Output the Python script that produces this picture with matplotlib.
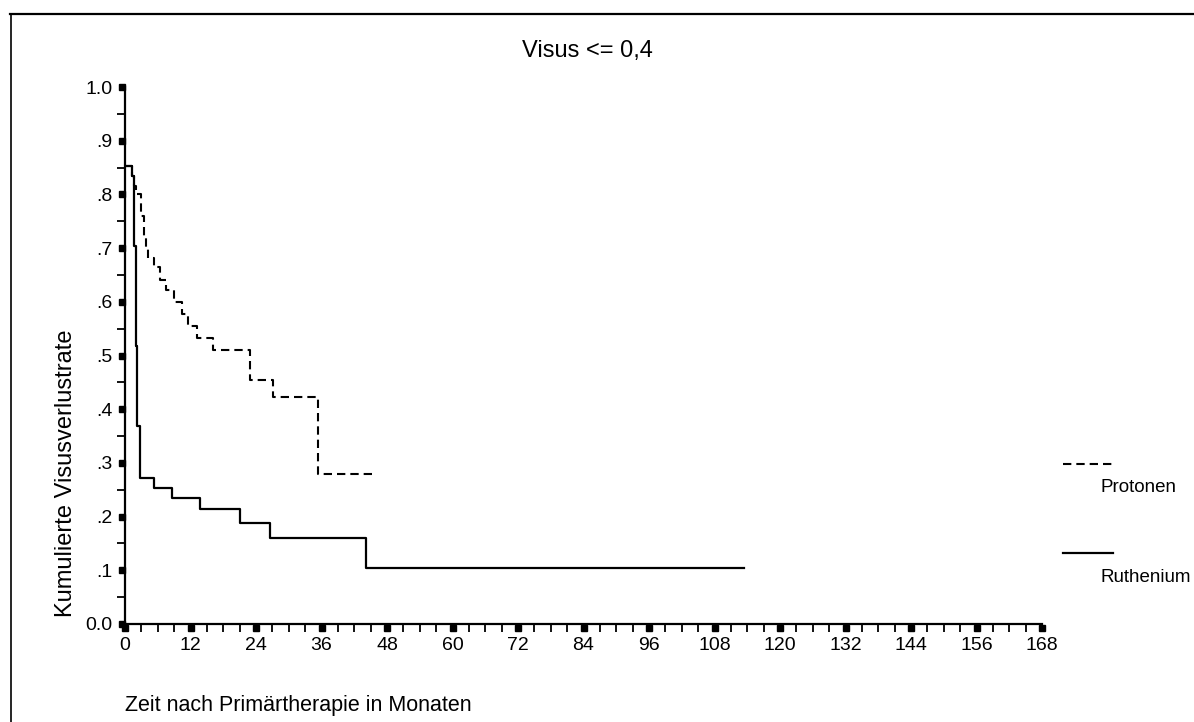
import matplotlib
matplotlib.use("Agg")
import matplotlib.pyplot as plt
from matplotlib.lines import Line2D
from matplotlib.transforms import offset_copy
import numpy as np

plt.rcParams['font.family'] = ['Liberation Sans', 'DejaVu Sans']

# Kaplan-Meier like step curves (months, cumulative rate)
prot_t = [0, 1.2, 1.6, 1.96, 2.87, 3.4, 3.85, 4.3, 5.3, 6.5, 7.6, 9.0, 10.4, 11.6,
          13.1, 16.2, 22.9, 27.2, 35.4]
prot_v = [0.853, 0.835, 0.815, 0.80, 0.76, 0.7225, 0.70, 0.682, 0.664, 0.641, 0.622,
          0.600, 0.577, 0.5555, 0.532, 0.510, 0.454, 0.422, 0.279]
prot_end = 45.5

ruth_t = [0, 1.2, 1.7, 2.0, 2.2, 2.75, 5.3, 8.7, 13.7, 21.1, 26.6, 44.2]
ruth_v = [0.853, 0.835, 0.703, 0.518, 0.369, 0.272, 0.254, 0.235, 0.2135, 0.189,
          0.1596, 0.105]
ruth_end = 113.4

xticks = np.arange(0, 169, 12)
xminor = [m for m in range(0, 169, 3) if m % 12 != 0]
yticks = np.round(np.arange(0, 1.01, 0.1), 1)
ylabels = ['0.0', '.1', '.2', '.3', '.4', '.5', '.6', '.7', '.8', '.9', '1.0']
yminor = np.round(np.arange(0.05, 1.0, 0.1), 2)

W, H = 1194, 722
fig = plt.figure(figsize=(W / 100, H / 100), dpi=100)
ax = fig.add_axes([125 / W, 1 - 624 / H, (1042 - 125) / W, (624 - 87) / H])

ax.step(prot_t + [prot_end], prot_v + [prot_v[-1]], where='post', color='black',
        lw=1.5, dashes=(4, 2.4))
ax.step(ruth_t + [ruth_end], ruth_v + [ruth_v[-1]], where='post', color='black', lw=1.6)

ax.set_xlim(0, 168)
ax.set_ylim(0, 1)
for s in ['top', 'right']:
    ax.spines[s].set_visible(False)
for s in ['left', 'bottom']:
    ax.spines[s].set_linewidth(1.6)

ax.set_xticks(xticks)
ax.set_xticklabels([str(x) for x in xticks])
ax.set_xticks(xminor, minor=True)
ax.set_yticks(yticks)
ax.set_yticklabels(ylabels)
ax.set_yticks(yminor, minor=True)
ax.tick_params(axis='both', which='major', length=0, labelsize=14, pad=9)
ax.tick_params(axis='both', which='minor', length=6, width=1.3, direction='out')

# square markers for major ticks
ytr = offset_copy(ax.get_yaxis_transform(), fig=fig, x=-2.4, y=0, units='points')
ax.plot(np.zeros(len(yticks)), yticks, 's', color='black', ms=5, transform=ytr,
        clip_on=False)
xtr = offset_copy(ax.get_xaxis_transform(), fig=fig, x=0, y=-2.8, units='points')
ax.plot(xticks, np.zeros(len(xticks)), 's', color='black', ms=5, transform=xtr,
        clip_on=False)

fig.text(587 / W, 1 - 51 / H, 'Visus <= 0,4', ha='center', va='center', fontsize=17)
fig.text(66 / W, 1 - 473 / H, 'Kumulierte Visusverlustrate', ha='center', va='center',
         rotation=90, fontsize=17)
fig.text(125 / W, 1 - 706 / H, 'Zeit nach Primärtherapie in Monaten', ha='left',
         va='center', fontsize=15.5)

# legend
fig.add_artist(Line2D([1063 / W, 1115 / W], [1 - 464 / H] * 2, color='black', lw=1.5,
                      dashes=(4, 2.4)))
fig.text(1101 / W, 1 - 487 / H, 'Protonen', ha='left', va='center', fontsize=13.5)
fig.add_artist(Line2D([1063 / W, 1113 / W], [1 - 553 / H] * 2, color='black', lw=1.6))
fig.text(1101 / W, 1 - 577 / H, 'Ruthenium', ha='left', va='center', fontsize=13.5)

# frame lines
fig.add_artist(Line2D([10 / W, 1], [1 - 14 / H] * 2, color='black', lw=1.6))
fig.add_artist(Line2D([11 / W] * 2, [1 - 14 / H, 0], color='black', lw=1.2))

fig.savefig('out.png', dpi=100)
